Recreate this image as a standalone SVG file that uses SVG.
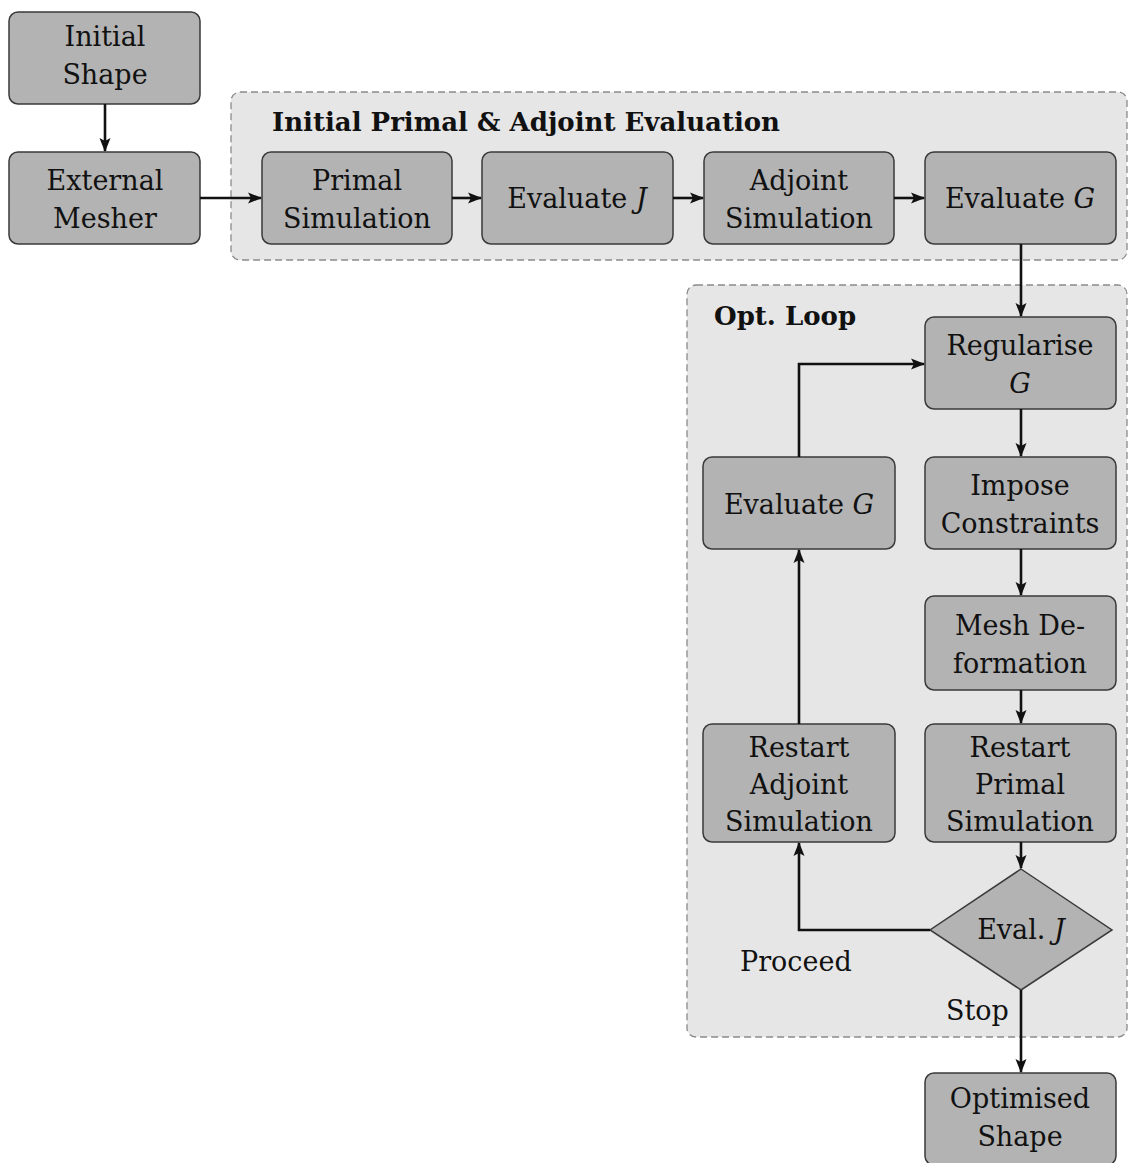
<svg xmlns="http://www.w3.org/2000/svg" width="1129" height="1163" viewBox="0 0 1129 1163">
<style>
.grp{fill:#e6e6e6;stroke:#8a8a8a;stroke-width:1.3;stroke-dasharray:7 4}
.box{fill:#b3b3b3;stroke:#3a3a3a;stroke-width:1.5}
.t{font-family:"DejaVu Serif","Liberation Serif",serif;font-size:27px;fill:#111;text-anchor:middle}
.h{font-family:"DejaVu Serif","Liberation Serif",serif;font-size:26px;font-weight:bold;fill:#111}
.l{font-family:"DejaVu Serif","Liberation Serif",serif;font-size:27px;fill:#111}
.c{fill:none;stroke:#111;stroke-width:2.6;marker-end:url(#ah)}
i,.it{font-style:italic}
</style>
<defs>
<marker id="ah" markerUnits="userSpaceOnUse" markerWidth="14" markerHeight="12" viewBox="0 0 14 12" refX="13" refY="6" orient="auto">
<path d="M0,0.5 L14,6 L0,11.5 L3,6 Z" fill="#111"/>
</marker>
</defs>
<g id="group-initial">
<rect class="grp" x="231" y="92" width="896" height="168" rx="9"/>
<text class="h" x="272" y="131">Initial Primal &amp; Adjoint Evaluation</text>
</g>
<g id="group-opt">
<rect class="grp" x="687" y="285" width="440" height="752" rx="9"/>
<text class="h" x="714" y="325">Opt. Loop</text>
</g>
<g id="initial-shape"><rect class="box" x="9" y="12" width="191" height="92" rx="9"/><text class="t" x="105" y="46">Initial</text><text class="t" x="105" y="84">Shape</text></g>
<g id="external-mesher"><rect class="box" x="9" y="152" width="191" height="92" rx="9"/><text class="t" x="105" y="190">External</text><text class="t" x="105" y="228">Mesher</text></g>
<g id="primal-sim"><rect class="box" x="262" y="152" width="190" height="92" rx="9"/><text class="t" x="357" y="190">Primal</text><text class="t" x="357" y="228">Simulation</text></g>
<g id="evaluate-j"><rect class="box" x="482" y="152" width="191" height="92" rx="9"/><text class="t" x="577" y="208">Evaluate <tspan class="it">J</tspan></text></g>
<g id="adjoint-sim"><rect class="box" x="704" y="152" width="190" height="92" rx="9"/><text class="t" x="799" y="190">Adjoint</text><text class="t" x="799" y="228">Simulation</text></g>
<g id="evaluate-g1"><rect class="box" x="925" y="152" width="191" height="92" rx="9"/><text class="t" x="1020" y="208">Evaluate <tspan class="it">G</tspan></text></g>
<g id="regularise"><rect class="box" x="925" y="317" width="191" height="92" rx="9"/><text class="t" x="1020" y="355">Regularise</text><text class="t" x="1020" y="393"><tspan class="it">G</tspan></text></g>
<g id="impose"><rect class="box" x="925" y="457" width="191" height="92" rx="9"/><text class="t" x="1020" y="495">Impose</text><text class="t" x="1020" y="533">Constraints</text></g>
<g id="evaluate-g2"><rect class="box" x="703" y="457" width="192" height="92" rx="9"/><text class="t" x="799" y="514">Evaluate <tspan class="it">G</tspan></text></g>
<g id="mesh-deformation"><rect class="box" x="925" y="596" width="191" height="94" rx="9"/><text class="t" x="1020" y="635">Mesh De-</text><text class="t" x="1020" y="673">formation</text></g>
<g id="restart-primal"><rect class="box" x="925" y="724" width="191" height="118" rx="9"/><text class="t" x="1020" y="757">Restart</text><text class="t" x="1020" y="794">Primal</text><text class="t" x="1020" y="831">Simulation</text></g>
<g id="restart-adjoint"><rect class="box" x="703" y="724" width="192" height="118" rx="9"/><text class="t" x="799" y="757">Restart</text><text class="t" x="799" y="794">Adjoint</text><text class="t" x="799" y="831">Simulation</text></g>
<g id="eval-j-decision"><polygon class="box" points="1021,869 1112,930 1021,990 930,930"/><text class="t" x="1021" y="939">Eval. <tspan class="it">J</tspan></text></g>
<g id="optimised-shape"><rect class="box" x="925" y="1073" width="191" height="92" rx="9"/><text class="t" x="1020" y="1108">Optimised</text><text class="t" x="1020" y="1146">Shape</text></g>
<g id="connectors">
<path class="c" d="M105,104 V151"/>
<path class="c" d="M200,198 H261"/>
<path class="c" d="M452,198 H481"/>
<path class="c" d="M673,198 H703"/>
<path class="c" d="M894,198 H924"/>
<path class="c" d="M1021,244 V316"/>
<path class="c" d="M1021,409 V456"/>
<path class="c" d="M1021,549 V595"/>
<path class="c" d="M1021,690 V723"/>
<path class="c" d="M1021,842 V868"/>
<path class="c" d="M1021,990 V1072"/>
<path class="c" d="M930,930 H799 V843"/>
<path class="c" d="M799,724 V550"/>
<path class="c" d="M799,457 V364 H924"/>
</g>
<text class="l" x="740" y="971">Proceed</text>
<text class="l" x="946" y="1020">Stop</text>
</svg>
